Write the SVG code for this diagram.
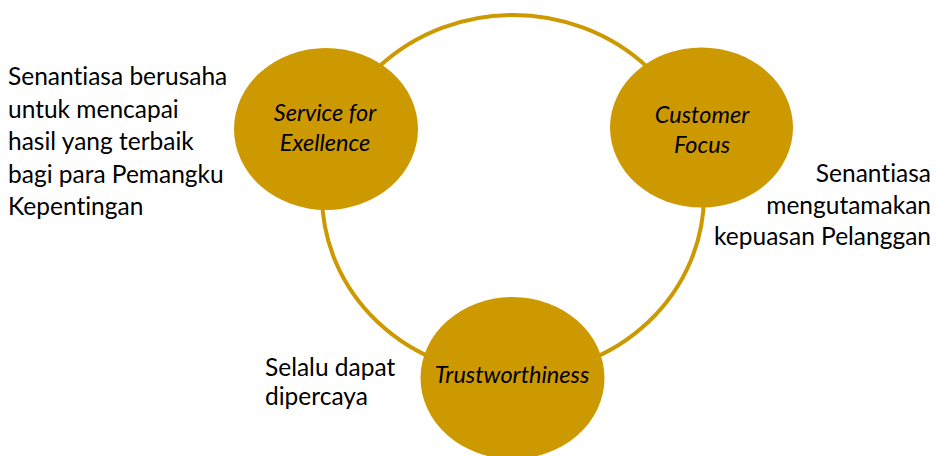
<svg xmlns="http://www.w3.org/2000/svg" width="937" height="456" viewBox="0 0 937 456">
<style>
.ring{fill:none;stroke:#CC9900;stroke-width:4}
.node{fill:#CC9900}
text{font-family:Lato,"Open Sans","Liberation Sans",sans-serif;font-variant-ligatures:none;fill:#000}
.lbl{font-size:23.5px;font-style:italic;text-anchor:middle}
.desc{font-size:24.5px}
</style>
<rect width="937" height="456" fill="#fff"/>
<g id="connectors">
<ellipse class="ring" cx="513" cy="195" rx="191" ry="180"/>
</g>
<g id="node-service">
<ellipse class="node" cx="326" cy="129" rx="92" ry="81"/>
<text class="lbl" x="325" y="121">Service for</text>
<text class="lbl" x="325" y="151">Exellence</text>
</g>
<g id="node-customer">
<ellipse class="node" cx="701.5" cy="127.5" rx="91.5" ry="80"/>
<text class="lbl" x="702" y="123">Customer</text>
<text class="lbl" x="702" y="153">Focus</text>
</g>
<g id="node-trust">
<ellipse class="node" cx="512.5" cy="378" rx="92" ry="81"/>
<text class="lbl" x="512" y="383">Trustworthiness</text>
</g>
<g id="desc-service">
<text class="desc" x="8" y="85">Senantiasa berusaha</text>
<text class="desc" x="8" y="118">untuk mencapai</text>
<text class="desc" x="8" y="150">hasil yang terbaik</text>
<text class="desc" x="8" y="183">bagi para Pemangku</text>
<text class="desc" x="8" y="215">Kepentingan</text>
</g>
<g id="desc-customer" text-anchor="end">
<text class="desc" x="931" y="182">Senantiasa</text>
<text class="desc" x="931" y="214">mengutamakan</text>
<text class="desc" x="931" y="245">kepuasan Pelanggan</text>
</g>
<g id="desc-trust">
<text class="desc" x="265" y="376">Selalu dapat</text>
<text class="desc" x="265" y="405">dipercaya</text>
</g>
</svg>
